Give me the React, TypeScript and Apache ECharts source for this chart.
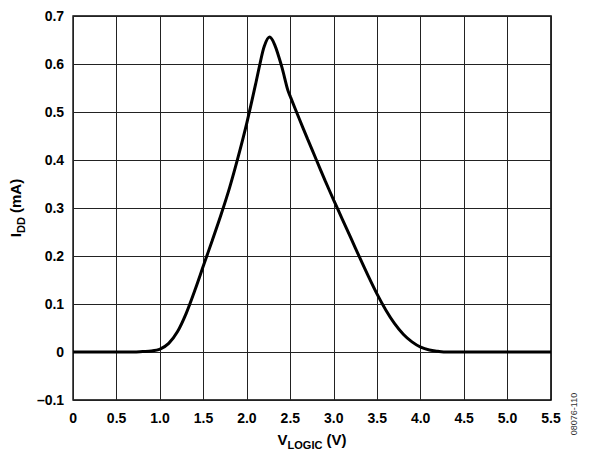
import React, { useEffect, useRef } from "react";
import * as echarts from "echarts";

const vLogic = [0, 0.7, 0.8, 0.9, 1.0, 1.1, 1.2, 1.3, 1.4, 1.5, 1.6, 1.7, 1.8, 1.9, 2.0, 2.1, 2.15, 2.2, 2.26, 2.32, 2.4, 2.47, 2.5, 2.6, 2.7, 2.8, 2.9, 3.0, 3.1, 3.2, 3.3, 3.4, 3.5, 3.6, 3.7, 3.8, 3.9, 4.0, 4.1, 4.2, 4.3, 5.5];
const iDD = [0, 0, 0.001, 0.002, 0.006, 0.018, 0.042, 0.08, 0.128, 0.18, 0.232, 0.285, 0.342, 0.407, 0.478, 0.558, 0.6, 0.637, 0.656, 0.64, 0.595, 0.546, 0.532, 0.487, 0.443, 0.4, 0.357, 0.316, 0.276, 0.236, 0.196, 0.157, 0.12, 0.087, 0.059, 0.037, 0.021, 0.01, 0.004, 0.0015, 0, 0];

const xMin = 0, xMax = 5.5, xStep = 0.5;
const yMin = -0.1, yMax = 0.7, yStep = 0.1;
const figureId = "08076-110";

const FONT = "Liberation Sans, Arial, Helvetica, sans-serif";

const nameRich = {
  a: { fontSize: 15, fontWeight: "bold", color: "#000", fontFamily: FONT, lineHeight: 18, verticalAlign: "top" },
  s: { fontSize: 11, fontWeight: "bold", color: "#000", fontFamily: FONT, lineHeight: 12, verticalAlign: "bottom", padding: [7, 0, 0, 0] },
};

export default function App() {
  const ref = useRef<HTMLDivElement>(null);
  useEffect(() => {
    if (!ref.current) return;
    const chart = echarts.init(ref.current, null, { renderer: "svg" });
    const data = vLogic.map((v, i) => [v, iDD[i]]);
    chart.setOption({
      animation: false,
      backgroundColor: "#fff",
      textStyle: { fontFamily: FONT },
      grid: {
        left: 71, right: 44, top: 16, bottom: 58,
        show: true, borderColor: "#000", borderWidth: 1.6, backgroundColor: "transparent",
      },
      xAxis: {
        type: "value", min: xMin, max: xMax, interval: xStep,
        axisLine: { show: false },
        axisTick: { show: false },
        splitLine: { show: true, lineStyle: { color: "#222", width: 1 } },
        axisLabel: {
          margin: 11, color: "#000", fontWeight: "bold", fontSize: 14, fontFamily: FONT,
          formatter: (v: number) => (Math.abs(v) < 1e-9 ? "0" : v.toFixed(1)),
        },
        name: "{a|V}{s|LOGIC}{a| (V)}",
        nameLocation: "middle",
        nameGap: 32,
        nameTextStyle: { rich: nameRich },
      },
      yAxis: {
        type: "value", min: yMin, max: yMax, interval: yStep,
        axisLine: { show: false },
        axisTick: { show: false },
        splitLine: { show: true, lineStyle: { color: "#222", width: 1 } },
        axisLabel: {
          margin: 9, color: "#000", fontWeight: "bold", fontSize: 14, fontFamily: FONT,
          formatter: (v: number) => {
            if (Math.abs(v) < 1e-9) return "0";
            return v < 0 ? "\u2013" + Math.abs(v).toFixed(1) : v.toFixed(1);
          },
        },
        name: "{a|I}{s|DD}{a| (mA)}",
        nameLocation: "middle",
        nameGap: 42,
        nameTextStyle: { rich: nameRich },
      },
      graphic: [
        {
          type: "text",
          x: 574, y: 414,
          rotation: Math.PI / 2,
          style: {
            text: figureId, fontSize: 9, fill: "#333", fontFamily: FONT,
            align: "center", verticalAlign: "middle",
          },
        },
      ],
      series: [
        {
          type: "line",
          data,
          smooth: 0.3,
          showSymbol: false,
          lineStyle: { color: "#000", width: 3 },
          z: 5,
        },
      ],
    });
    return () => chart.dispose();
  }, []);
  return <div ref={ref} style={{ position: "fixed", left: 0, top: 0, width: 595, height: 458 }} />;
}
